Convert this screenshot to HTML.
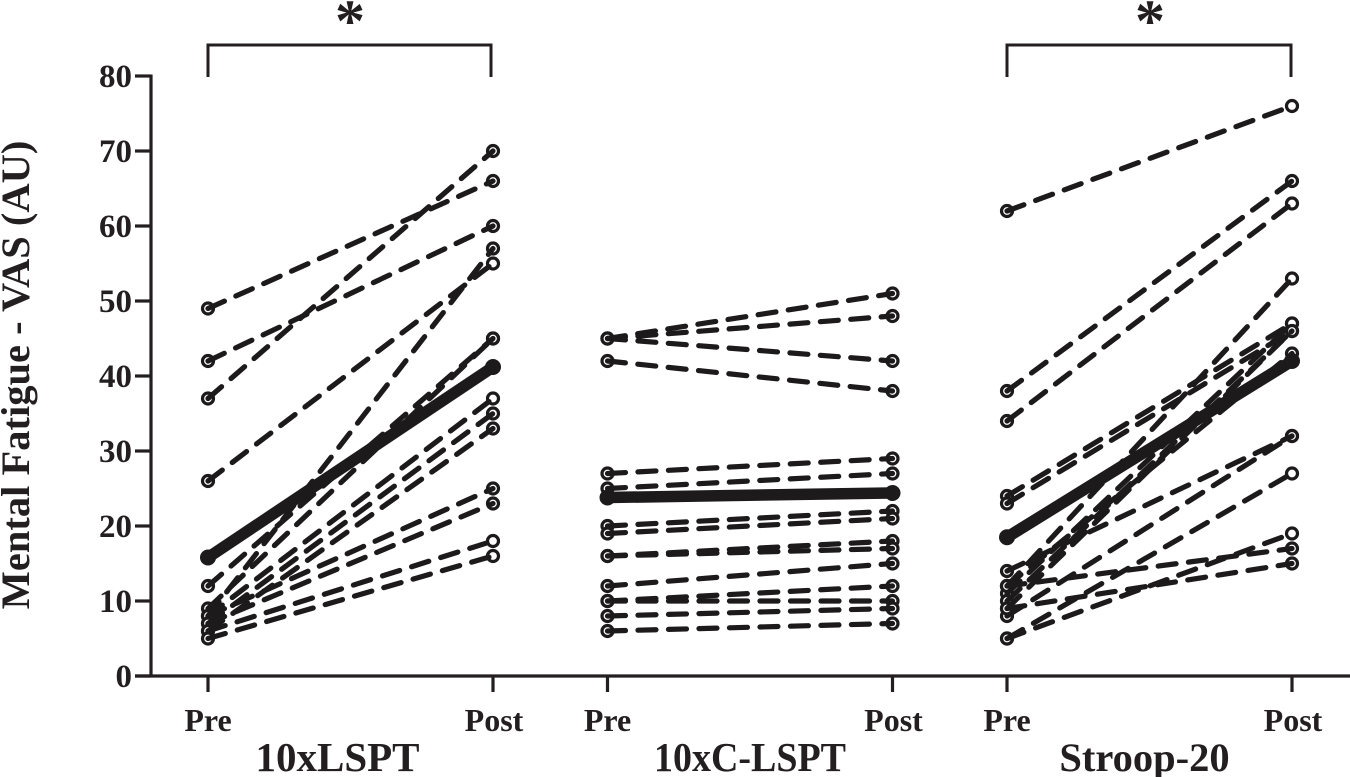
<!DOCTYPE html>
<html lang="en">
<head>
<meta charset="utf-8">
<title>Mental Fatigue - VAS</title>
<style>
html,body{margin:0;padding:0;background:#fff;width:1350px;height:777px;overflow:hidden}
svg{display:block}
text{font-family:"Liberation Serif",serif;font-weight:bold;fill:#231f20}
</style>
</head>
<body>
<svg id="chart" width="1350" height="777" viewBox="0 0 1350 777" xmlns="http://www.w3.org/2000/svg">
  <text transform="translate(29,375) rotate(-90)" text-anchor="middle" font-size="40.5">Mental Fatigue - VAS (AU)</text>
  <g fill="none" stroke="#231f20" stroke-width="3">
    <path d="M208 77V45H491V77"/>
  </g>
  <g fill="none" stroke="#231f20" stroke-width="3">
    <path d="M1007 77V45H1291V77"/>
  </g>
  <text x="350" y="41" text-anchor="middle" font-size="60">*</text>
  <text x="1150" y="41" text-anchor="middle" font-size="60">*</text>
  <text x="337.5" y="771" text-anchor="middle" font-size="41">10xLSPT</text>
  <text x="750" y="771" text-anchor="middle" font-size="41" textLength="192" lengthAdjust="spacingAndGlyphs">10xC-LSPT</text>
  <text x="1144.5" y="771" text-anchor="middle" font-size="40.5">Stroop-20</text>
  <g id="axes"></g>
  <g id="series"></g>
</svg>
<script>
const yTicks = [0, 10, 20, 30, 40, 50, 60, 70, 80];
const phaseLabels = ["Pre", "Post"];

const lsptPre  = [49, 42, 37, 26, 8, 12, 9, 8, 7, 6, 8, 7, 6, 5];
const lsptPost = [66, 60, 70, 55, 57, 45, 45, 37, 35, 33, 25, 23, 18, 16];
const lsptMean = [15.8, 41.2];

const clsptPre  = [45, 45, 45, 42, 27, 25, 20, 19, 16, 16, 12, 10, 10, 8, 6];
const clsptPost = [51, 48, 42, 38, 29, 27, 22, 21, 18, 17, 15, 12, 10, 9, 7];
const clsptMean = [23.8, 24.4];

const stroopPre  = [62, 38, 34, 24, 23, 12, 12, 9, 11, 10, 14, 8, 5, 5, 12, 9];
const stroopPost = [76, 66, 63, 47, 46, 53, 43, 46, 47, 46, 32, 32, 27, 19, 17, 15];
const stroopMean = [18.5, 42];

const groupKeys = ["10xlspt", "10xc-lspt", "stroop-20"];
const groupPre  = [lsptPre, clsptPre, stroopPre];
const groupPost = [lsptPost, clsptPost, stroopPost];
const groupMean = [lsptMean, clsptMean, stroopMean];

const NS = "http://www.w3.org/2000/svg";
const INK = "#231f20";
const SERIES_INK = "#1c1a1b";

function yScale(v) { return 676 - 7.5 * v; }
function xScale(groupIndex, phaseIndex) {
  const starts = 208 + 399.5 * groupIndex;
  return starts + 285 * phaseIndex;
}
function make(tag, attrs, parent) {
  const el = document.createElementNS(NS, tag);
  for (const k in attrs) el.setAttribute(k, attrs[k]);
  parent.appendChild(el);
  return el;
}

const axes = document.getElementById("axes");
const series = document.getElementById("series");

const yAxis = make("line", { x1: 151, x2: 151, y1: yScale(80) - 1.5, y2: yScale(0) + 1.5, stroke: INK, "stroke-width": 3.2 }, axes);


const xAxis = make("line", { x1: 135, x2: 1350, y1: yScale(0), y2: yScale(0), stroke: INK, "stroke-width": 3.2 }, axes);



yTicks.forEach(function (t) {
  const tick = make("line", { x1: 135, x2: 151, y1: yScale(t), y2: yScale(t), stroke: INK, "stroke-width": 3.2 }, axes);
  
  
  const label = make("text", { x: 132, y: yScale(t) + 11, "text-anchor": "end", "font-size": 33 }, axes);
  
  
  label.textContent = t;
});

groupKeys.forEach(function (key, g) {
  phaseLabels.forEach(function (name, p) {
    const x = xScale(g, p);
    const tick = make("line", { x1: x, x2: x, y1: yScale(0), y2: 692, stroke: INK, "stroke-width": 3.2 }, axes);
    
    
    const label = make("text", { x: x + p * 1, y: 731, "text-anchor": "middle", "font-size": 32 }, axes);
    
    
    label.textContent = name;
  });

  const group = make("g", {}, series);
  
  

  const pre = groupPre[g];
  const post = groupPost[g];

  pre.forEach(function (v, i) {
    const a = make("circle", { cx: xScale(g, 0), cy: yScale(v), r: 5.5, fill: "#fff", stroke: SERIES_INK, "stroke-width": 3.2 }, group);
    
    
    const b = make("circle", { cx: xScale(g, 1), cy: yScale(post[i]), r: 5.5, fill: "#fff", stroke: SERIES_INK, "stroke-width": 3.2 }, group);
    
    
  });

  pre.forEach(function (v, i) {
    const l = make("line", {
      x1: xScale(g, 0), y1: yScale(v), x2: xScale(g, 1), y2: yScale(post[i]),
      stroke: SERIES_INK, "stroke-width": 5.2, "stroke-linecap": "round", "stroke-dasharray": "18 12.5"
    }, group);
    
    
  });

  const m = groupMean[g];
  const meanLine = make("line", {
    x1: xScale(g, 0), y1: yScale(m[0]), x2: xScale(g, 1), y2: yScale(m[1]),
    stroke: SERIES_INK, "stroke-width": 11.5, "stroke-linecap": "round"
  }, group);
  
  
  m.forEach(function (v, p) {
    const c = make("circle", { cx: xScale(g, p), cy: yScale(v), r: 8, fill: SERIES_INK }, group);
    
    
  });
});
</script>
</body>
</html>
